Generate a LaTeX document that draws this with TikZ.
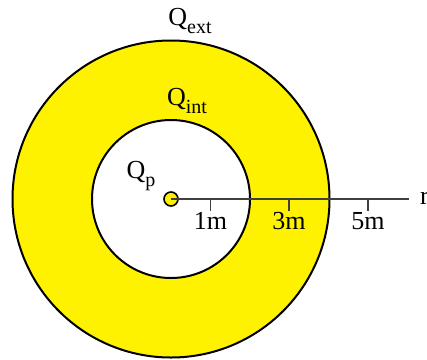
\documentclass[tikz,border=0pt]{standalone}
\usepackage{fontspec}
\setmainfont{Liberation Serif}
\newcommand{\mysub}[1]{\raisebox{-0.28em}{\fontsize{20}{22}\selectfont #1}}
\begin{document}
\begin{tikzpicture}[x=1pt,y=-1pt,
  lbl/.style={inner sep=0pt,font=\fontsize{26}{30}\selectfont},
  ring/.style={draw=black,line width=2pt},
  tick/.style={draw=black!75,line width=1.1pt}]
\useasboundingbox (0,0) rectangle (427,359);
\coordinate (O) at (171,199);
% shells
\fill[yellow,even odd rule] (O) circle (158.5) (O) circle (79);
\draw[ring] (O) circle (158.5);
\draw[ring] (O) circle (79);
% axis
\coordinate (rend) at (409,199);
\draw[draw=black!75,line width=1.3pt] (O) -- (rend);
\foreach \m/\xx in {1/210.5,3/289,5/368}{
  \coordinate (t\m) at (\xx,199);
  \draw[tick] (t\m) -- ++(0,12);
  \node[lbl,anchor=north] (l\m) at (\xx,212) {\m m};
}
\node[lbl,anchor=west] (r) at (420,198) {r};
% point charge
\node[circle,draw=black,line width=1.6pt,fill=yellow,minimum size=14pt,inner sep=0pt] (p) at (O) {};
\draw[draw=black!75,line width=1.3pt] (p.center) -- (p.east);
% labels
\node[lbl] (qext) at (190,21) {Q\mysub{ext}};
\node[lbl] (qint) at (187,101) {Q\mysub{int}};
\node[lbl] (qp) at (141,176) {Q\mysub{p}};
\end{tikzpicture}
\end{document}
